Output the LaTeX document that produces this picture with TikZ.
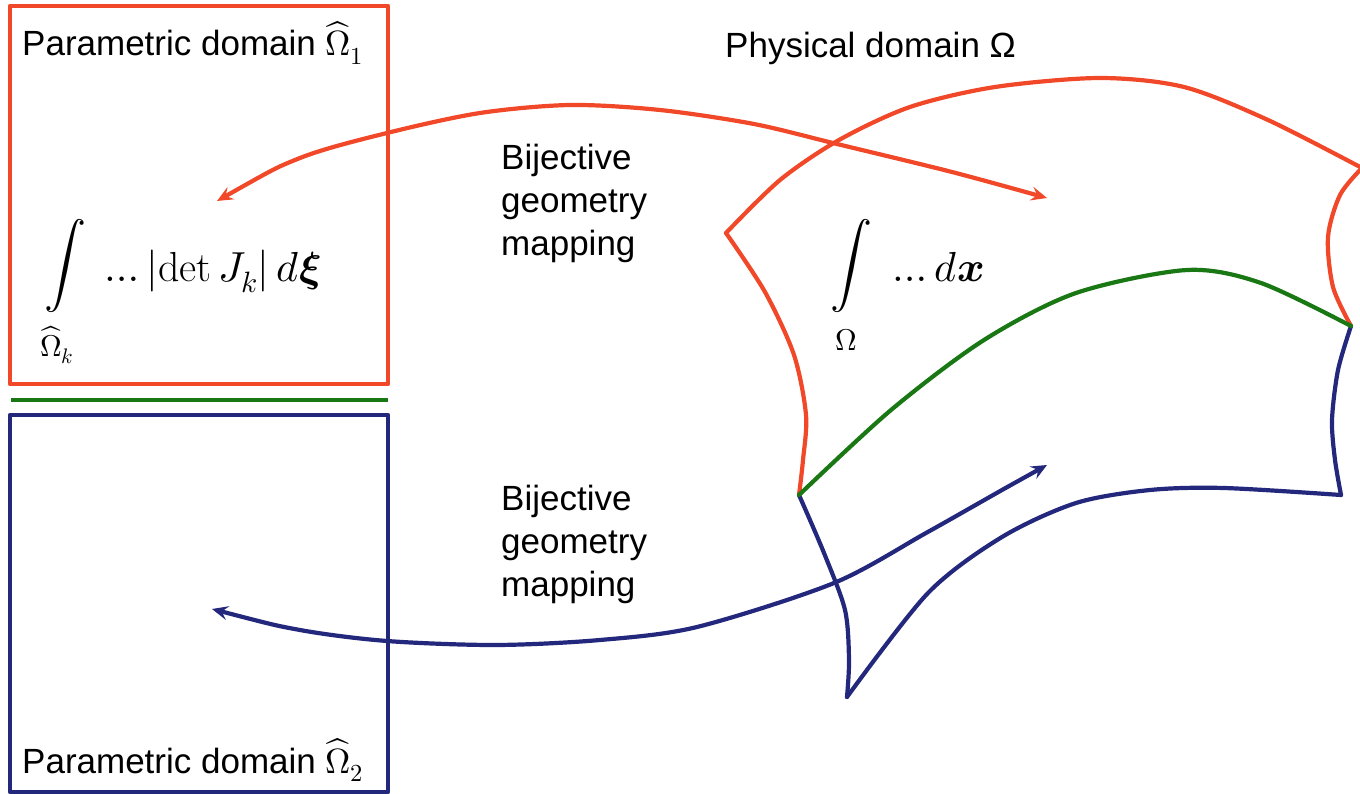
\documentclass[tikz,border=0pt]{standalone}
\usepackage{amsmath}
\usepackage{fontspec}
\usepackage{unicode-math}
\setmainfont{Liberation Sans}
\setmathfont{Latin Modern Math}
\setmathrm{Latin Modern Roman}
\usetikzlibrary{arrows.meta}
\definecolor{cred}{RGB}{240,72,40}
\definecolor{cblue}{RGB}{35,40,125}
\definecolor{cgreen}{RGB}{25,120,20}
\tikzset{
  lbl/.style={inner sep=0pt, anchor=base west, font=\fontsize{35}{42}\selectfont},
  mth/.style={inner sep=0pt, font=\fontsize{42}{50}\selectfont},
  lim/.style={inner sep=0pt, anchor=base, font=\fontsize{30}{36}\selectfont},
  edge/.style={line width=4.2pt, line join=round, line cap=round},
  mhead/.tip={Stealth[length=16pt,width=14pt,inset=6pt]},
  biarrow/.style={mhead-mhead},
}
\begin{document}
\begin{tikzpicture}[x=1pt,y=-1pt]
\useasboundingbox (0,0) rectangle (1360,794);
% parametric boxes
\draw[edge, cred] (10,6) rectangle (388,384);
\draw[cgreen, line width=4.2pt] (11,400) -- (388,400);
\draw[edge, cblue] (10,415) rectangle (388,792);
\node[lbl] (p1) at (22,56) {Parametric domain $\widehat{\Omega}_1$};
\node[lbl] (p2) at (22,773) {Parametric domain $\widehat{\Omega}_2$};
% left integral
\node[mth] (intL) at (65,266) {$\displaystyle\int$};
\node[lim] (limL) at (57,356) {$\widehat{\Omega}_k$};
\node[mth, anchor=base west] (frmL) at (104,282) {$\dots|\mathrm{det}\,J_k|\,d\symbfit{\xi}$};
% physical domain
\node[lbl] (phys) at (725,58) {Physical domain Ω};
\node[mth] (intR) at (851,266) {$\displaystyle\int$};
\node[lim] (limR) at (846,350) {$\Omega$};
\node[mth, anchor=base west] (frmR) at (892,282) {$\dots d\symbfit{x}$};
% texts
\node[lbl] (b1) at (501,170) {Bijective};
\node[lbl] (g1) at (501,213) {geometry};
\node[lbl] (m1) at (501,256) {mapping};
\node[lbl] (b2) at (501,510) {Bijective};
\node[lbl] (g2) at (501,553) {geometry};
\node[lbl] (m2) at (501,596) {mapping};
% corners of physical domain
\coordinate (cTL) at (726,233);
\coordinate (cTR) at (1362,168);
\coordinate (cMR) at (1351,326);
\coordinate (cML) at (799,495);
\coordinate (cBR) at (1341,495);
\coordinate (cBL) at (847,697);
% red patch
\draw[edge, cred] plot[smooth] coordinates {(cTL) (765,292) (794,355) (806,415) (803,460) (cML)};
\draw[edge, cred] plot[smooth] coordinates {(cTL) (780,180) (839,140) (910,107) (995,87) (1100,78) (1184,87) (1268,120) (cTR)};
\draw[edge, cred] plot[smooth] coordinates {(cTR) (1340,195) (1328,237) (1333,287) (cMR)};
% blue patch
\draw[edge, cblue] plot[smooth] coordinates {(cMR) (1338,370) (1332,420) (1335,460) (cBR)};
\draw[edge, cblue] plot[smooth] coordinates {(cBR) (1224,488) (1150,490) (1076,503) (1002,537) (928,593) (cBL)};
\draw[edge, cblue] plot[smooth] coordinates {(cML) (824,553) (845,610) (849,660) (cBL)};
% interface
\draw[edge, cgreen] plot[smooth] coordinates {(cML) (891,410) (984,340) (1076,293) (1187,270) (1261,283) (cMR)};
% mapping arrows
\coordinate (rA) at (217,201);
\coordinate (rB) at (1047,198);
\coordinate (bA) at (212,609);
\coordinate (bB) at (1047,465);
\draw[edge, cred, biarrow] plot[smooth] coordinates {(rA) (300,158) (387,133) (480,113) (570,105) (660,110) (754,124) (837,144) (952,172) (rB)};
\draw[edge, cblue, biarrow] plot[smooth] coordinates {(bA) (300,630) (387,641) (496,645) (600,640) (697,627) (834,583) (926,533) (1002,490) (bB)};
\end{tikzpicture}
\end{document}
